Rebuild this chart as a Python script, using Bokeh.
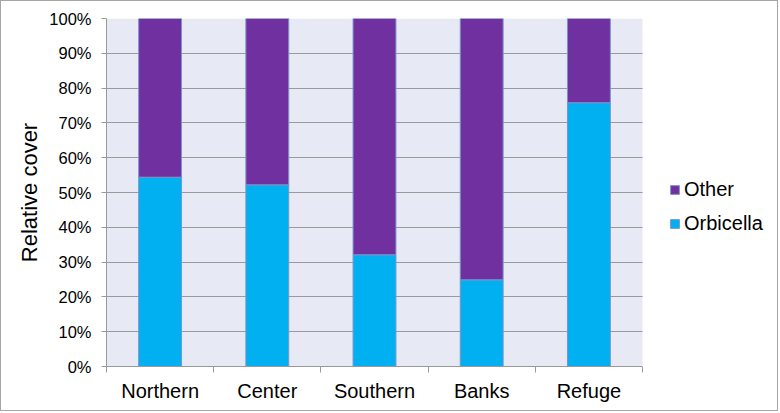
from bokeh.plotting import figure
from bokeh.models import (Range1d, FixedTicker, PrintfTickFormatter, Legend,
                          LegendItem, ColumnDataSource, BoxAnnotation)
from bokeh.embed import file_html
from bokeh.resources import INLINE

# Relative cover (%) by region
regions = ["Northern", "Center", "Southern", "Banks", "Refuge"]
orbicella = [54.4, 52.2, 32.1, 24.9, 75.8]
other = [round(100 - v, 1) for v in orbicella]
y_ticks = [0, 10, 20, 30, 40, 50, 60, 70, 80, 90, 100]

FONT = "Liberation Sans"
ORB_COLOR = "#00B0F0"
OTHER_COLOR = "#7030A0"
PLOT_BG = "#E7E9F4"
GRID = "#9a9a9a"

# canvas geometry: the frame runs to the right edge so the legend can sit
# beside the shaded plotting area; the data area itself is PLOT_W wide
WIDTH, HEIGHT = 778, 411
LEFT, TOP, BOTTOM = 105, 17, 46
PLOT_W = 536
n = len(regions)
frame_w = WIDTH - LEFT
x_end = n * frame_w / PLOT_W

xs = [i + 0.5 for i in range(n)]
source = ColumnDataSource(dict(x=xs, Orbicella=orbicella, Other=other))

p = figure(width=WIDTH, height=HEIGHT, output_backend="svg", toolbar_location=None,
           x_range=Range1d(0, x_end), y_range=Range1d(0, 100),
           min_border_left=LEFT, min_border_right=0,
           min_border_top=TOP, min_border_bottom=BOTTOM)
p.styles = {"border": "1px solid #a6a6a6"}

p.background_fill_color = "white"
p.border_fill_color = "white"
p.outline_line_color = None

# shaded plotting area behind grid and bars
p.add_layout(BoxAnnotation(left=0, right=n, bottom=0, top=100,
                           fill_color=PLOT_BG, fill_alpha=1, line_color=None,
                           level="image"))

renderers = p.vbar_stack(["Orbicella", "Other"], x="x", width=0.40, source=source,
                         fill_color=[ORB_COLOR, OTHER_COLOR],
                         line_color="#7a95cc", line_width=1)

# Y axis
p.yaxis.ticker = FixedTicker(ticks=y_ticks)
p.yaxis.formatter = PrintfTickFormatter(format="%d%%")
p.yaxis.axis_label = "Relative cover"
p.yaxis.axis_label_text_font = FONT
p.yaxis.axis_label_text_font_size = "22px"
p.yaxis.axis_label_text_font_style = "normal"
p.yaxis.axis_label_text_color = "black"
p.yaxis.axis_label_standoff = 4
p.yaxis.major_label_text_font = FONT
p.yaxis.major_label_text_font_size = "16.5px"
p.yaxis.major_label_text_color = "black"
p.yaxis.major_label_standoff = 10
p.yaxis.major_tick_in = 0
p.yaxis.major_tick_out = 5
p.yaxis.minor_tick_line_color = None
p.yaxis.axis_line_color = GRID
p.yaxis.major_tick_line_color = GRID

# X axis: labels at bar centres, tick marks between categories
p.xaxis.bounds = (0, n)
p.xaxis.ticker = FixedTicker(ticks=xs, minor_ticks=list(range(n + 1)))
p.xaxis.major_label_overrides = {x: name for x, name in zip(xs, regions)}
p.xaxis.major_label_text_font = FONT
p.xaxis.major_label_text_font_size = "20px"
p.xaxis.major_label_text_color = "black"
p.xaxis.major_label_standoff = 7
p.xaxis.major_tick_in = 0
p.xaxis.major_tick_out = 0
p.xaxis.minor_tick_in = 0
p.xaxis.minor_tick_out = 6
p.xaxis.minor_tick_line_color = GRID
p.xaxis.axis_line_color = GRID

p.xgrid.grid_line_color = None
p.ygrid.ticker = FixedTicker(ticks=y_ticks)
p.ygrid.cross_bounds = (0, n)
p.ygrid.grid_line_color = GRID
p.ygrid.grid_line_width = 1

legend = Legend(items=[LegendItem(label="Other", renderers=[renderers[1]]),
                       LegendItem(label="Orbicella", renderers=[renderers[0]])],
                location=(563, 131), orientation="vertical",
                border_line_color=None, background_fill_alpha=0,
                padding=0, margin=0, spacing=11,
                glyph_width=11, glyph_height=11, label_height=22,
                label_standoff=4,
                label_text_font=FONT, label_text_font_size="20px",
                label_text_color="black")
p.add_layout(legend, "center")

open("out.html", "w").write(file_html(p, INLINE))
